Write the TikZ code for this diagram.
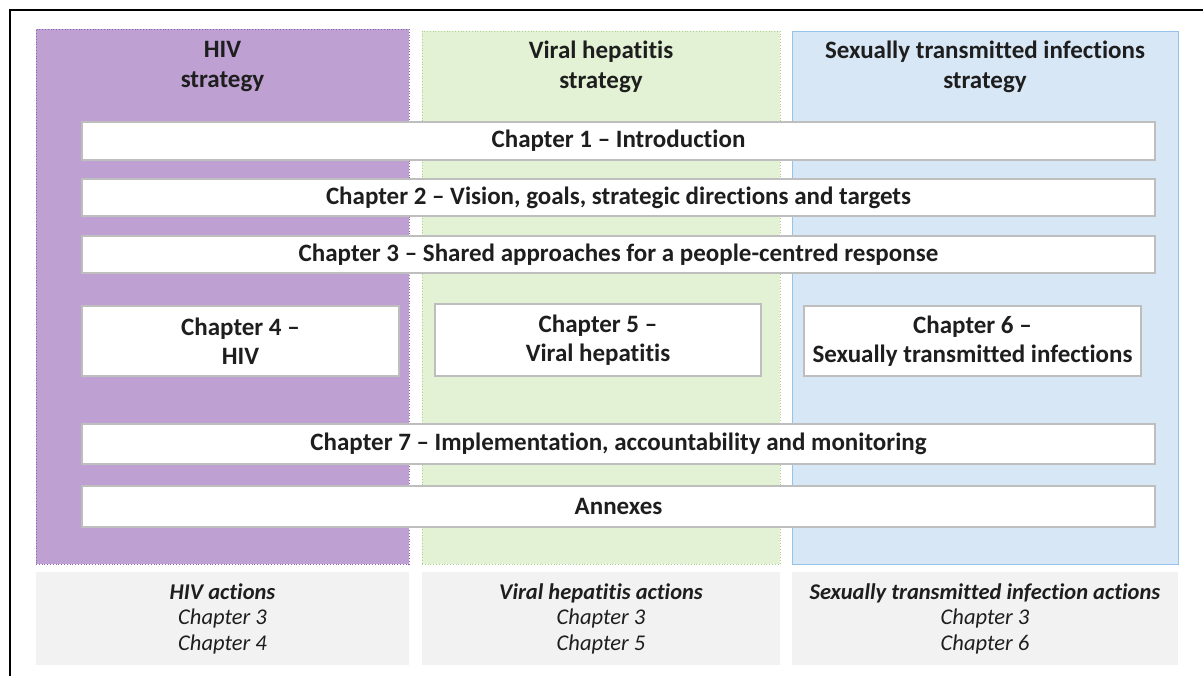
\documentclass[tikz,border=0pt]{standalone}
\usepackage{fontspec}
\setmainfont{Carlito}[Ligatures=NoCommon]
\usetikzlibrary{positioning}

\definecolor{hivfill}{RGB}{191,160,210}
\definecolor{hivline}{RGB}{140,100,180}
\definecolor{hepfill}{RGB}{227,241,212}
\definecolor{hepline}{RGB}{170,210,140}
\definecolor{stifill}{RGB}{216,231,245}
\definecolor{stiline}{RGB}{150,195,235}
\definecolor{actfill}{RGB}{242,242,242}
\definecolor{chapline}{RGB}{190,190,190}
\definecolor{textgray}{RGB}{30,30,30}

\begin{document}
\begin{tikzpicture}[x=1pt,y=-1pt,
    column/.style={rectangle, inner sep=0pt, line width=0.8pt, dotted},
    chapbox/.style={rectangle, fill=white, draw=chapline, line width=1.3pt, text=textgray,
        inner sep=0pt, align=center, font=\fontsize{25}{29.5}\selectfont\bfseries},
    coltitle/.style={align=center, inner sep=0pt, text=textgray, font=\fontsize{25}{30}\selectfont\bfseries},
    actbox/.style={rectangle, fill=actfill, inner sep=0pt, minimum height=93pt, text=textgray,
        align=center, font=\fontsize{22.5}{25.5}\selectfont\itshape}]
    \useasboundingbox (0,0) rectangle (1203,676);
    % frame
    \draw [black, line width=2pt] (10,676) -- (10,10) -- (1203,10);
    % strategy columns
    \node [column, fill=hivfill, draw=hivline, minimum width=373pt, minimum height=535pt] (hiv) at (222.5,296.5) {};
    \node [column, fill=hepfill, draw=hepline, minimum width=358pt, minimum height=533pt] (hep) at (601,297.5) {};
    \node [column, fill=stifill, draw=stiline, solid, minimum width=386pt, minimum height=533pt] (sti) at (985,297.5) {};
    \node [coltitle] (hivtitle) at (222.5,67) {HIV\\strategy};
    \node [coltitle] (heptitle) at (601,67) {Viral hepatitis\\strategy};
    \node [coltitle] (stititle) at (985,67) {Sexually transmitted infections\\strategy};
    % shared chapters
    \node [chapbox, minimum width=1073pt, minimum height=38pt] (ch1) at (618.5,141) {Chapter 1 – Introduction};
    \node [chapbox, minimum width=1073pt, minimum height=37pt] (ch2) at (618.5,197.5) {Chapter 2 – Vision, goals, strategic directions and targets};
    \node [chapbox, minimum width=1073pt, minimum height=37pt] (ch3) at (618.5,254.5) {Chapter 3 – Shared approaches for a people-centred response};
    % disease chapters
    \node [chapbox, minimum width=317pt, minimum height=70pt] (ch4) at (240.5,341) {Chapter 4 –\\HIV};
    \node [chapbox, minimum width=326pt, minimum height=72pt] (ch5) at (598,340) {Chapter 5 –\\Viral hepatitis};
    \node [chapbox, minimum width=337pt, minimum height=70pt] (ch6) at (972.5,341) {Chapter 6 –\\Sexually transmitted infections};
    \node [chapbox, minimum width=1073pt, minimum height=40pt] (ch7) at (618.5,444) {Chapter 7 – Implementation, accountability and monitoring};
    \node [chapbox, minimum width=1073pt, minimum height=41pt] (annex) at (618.5,506.5) {Annexes};
    % actions
    \node [actbox, minimum width=373pt] (hivact) at (222.5,618.5) {\textbf{HIV actions}\\Chapter 3\\Chapter 4};
    \node [actbox, minimum width=358pt] (hepact) at (601,618.5) {\textbf{Viral hepatitis actions}\\Chapter 3\\Chapter 5};
    \node [actbox, minimum width=386pt] (stiact) at (985,618.5) {\textbf{Sexually transmitted infection actions}\\Chapter 3\\Chapter 6};
\end{tikzpicture}
\end{document}
